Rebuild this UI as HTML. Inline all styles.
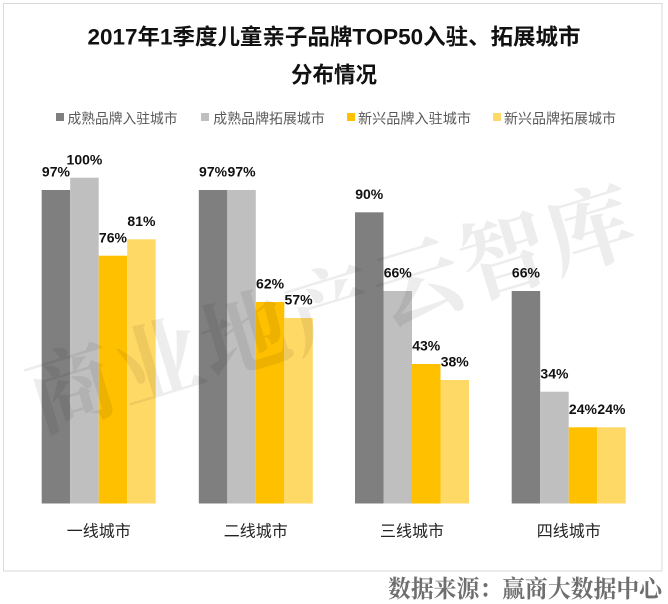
<!DOCTYPE html>
<html>
<head>
<meta charset="utf-8">
<style>
html,body{margin:0;padding:0;background:#fff;}
svg{display:block;}
</style>
</head>
<body>
<svg width="668" height="604" viewBox="0 0 668 604" xmlns="http://www.w3.org/2000/svg">
<rect x="0" y="0" width="668" height="604" fill="#ffffff"/>
<rect x="3.5" y="3.5" width="658.5" height="567.5" fill="none" stroke="#d9d9d9" stroke-width="1"/>

<!-- Title -->
<g font-family="'Liberation Sans','Noto Sans CJK SC',sans-serif" font-weight="bold" fill="#111" text-anchor="middle">
<text x="334" y="44.5" font-size="22" textLength="493" lengthAdjust="spacingAndGlyphs">2017年1季度儿童亲子品牌TOP50入驻、拓展城市</text>
<text x="334" y="82.5" font-size="22" textLength="86" lengthAdjust="spacingAndGlyphs">分布情况</text>
</g>

<!-- Legend -->
<g font-family="'Liberation Sans','Noto Sans CJK SC',sans-serif" font-size="14" fill="#595959">
<rect x="56" y="113" width="8" height="8" fill="#7f7f7f"/>
<text x="67.5" y="123.3" textLength="110" lengthAdjust="spacingAndGlyphs">成熟品牌入驻城市</text>
<rect x="201" y="113" width="8" height="8" fill="#bfbfbf"/>
<text x="213.3" y="123.3" textLength="111.5" lengthAdjust="spacingAndGlyphs">成熟品牌拓展城市</text>
<rect x="347" y="113" width="8" height="8" fill="#ffc000"/>
<text x="358" y="123.3" textLength="113" lengthAdjust="spacingAndGlyphs">新兴品牌入驻城市</text>
<rect x="493" y="113" width="8" height="8" fill="#ffd966"/>
<text x="504" y="123.3" textLength="112" lengthAdjust="spacingAndGlyphs">新兴品牌拓展城市</text>
</g>

<!-- Bars -->
<g>
<!-- Group 1 -->
<rect x="41.7" y="190" width="28.5" height="313.5" fill="#7f7f7f"/>
<rect x="70.2" y="177.7" width="28.5" height="325.8" fill="#bfbfbf"/>
<rect x="98.7" y="255.7" width="28.5" height="247.8" fill="#ffc000"/>
<rect x="127.2" y="239.3" width="28.5" height="264.2" fill="#ffd966"/>
<!-- Group 2 -->
<rect x="198.8" y="190" width="28.5" height="313.5" fill="#7f7f7f"/>
<rect x="227.3" y="190" width="28.5" height="313.5" fill="#bfbfbf"/>
<rect x="255.8" y="302" width="28.5" height="201.5" fill="#ffc000"/>
<rect x="284.3" y="318" width="28.5" height="185.5" fill="#ffd966"/>
<!-- Group 3 -->
<rect x="355" y="212.3" width="28.5" height="291.2" fill="#7f7f7f"/>
<rect x="383.5" y="291" width="28.5" height="212.5" fill="#bfbfbf"/>
<rect x="412" y="364" width="28.5" height="139.5" fill="#ffc000"/>
<rect x="440.5" y="380" width="28.5" height="123.5" fill="#ffd966"/>
<!-- Group 4 -->
<rect x="511.7" y="291" width="28.5" height="212.5" fill="#7f7f7f"/>
<rect x="540.2" y="391.7" width="28.5" height="111.8" fill="#bfbfbf"/>
<rect x="568.7" y="427.3" width="28.5" height="76.2" fill="#ffc000"/>
<rect x="597.2" y="427.3" width="28.5" height="76.2" fill="#ffd966"/>
</g>

<!-- Watermark -->
<text x="332" y="312" font-family="'Liberation Serif','Noto Serif CJK SC',serif" font-weight="bold" font-size="88" fill="#000" fill-opacity="0.07" text-anchor="middle" dominant-baseline="central" textLength="630" lengthAdjust="spacing" transform="rotate(-17 332 312)">商业地产云智库</text>

<!-- Value labels -->
<g font-family="'Liberation Sans',sans-serif" font-weight="bold" font-size="14" fill="#111" text-anchor="middle">
<text x="55.95" y="176.7">97%</text>
<text x="84.45" y="164.4">100%</text>
<text x="112.95" y="242.4">76%</text>
<text x="141.45" y="226">81%</text>

<text x="213.05" y="176.7">97%</text>
<text x="241.55" y="176.7">97%</text>
<text x="270.05" y="288.7">62%</text>
<text x="298.55" y="304.7">57%</text>

<text x="369.25" y="199">90%</text>
<text x="397.75" y="277.7">66%</text>
<text x="426.25" y="350.7">43%</text>
<text x="454.75" y="366.7">38%</text>

<text x="525.95" y="277.7">66%</text>
<text x="554.45" y="378.4">34%</text>
<text x="582.95" y="414">24%</text>
<text x="611.45" y="414">24%</text>
</g>

<!-- Category labels -->
<g font-family="'Liberation Sans','Noto Sans CJK SC',sans-serif" font-size="16" fill="#222" text-anchor="middle">
<text x="98.7" y="536.5">一线城市</text>
<text x="255.8" y="536.5">二线城市</text>
<text x="412" y="536.5">三线城市</text>
<text x="568.7" y="536.5">四线城市</text>
</g>

<!-- Source -->
<text x="388" y="597" font-family="'Liberation Serif','Noto Serif CJK SC',serif" font-weight="bold" font-size="24" fill="#6e6e6e" textLength="274" lengthAdjust="spacingAndGlyphs">数据来源：赢商大数据中心</text>
</svg>
</body>
</html>
